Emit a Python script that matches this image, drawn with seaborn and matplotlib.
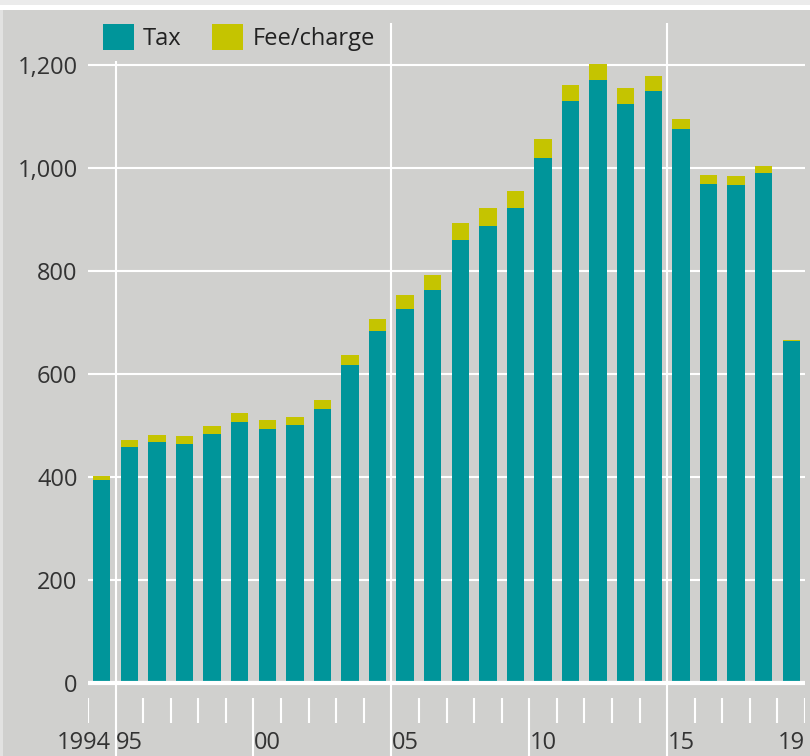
import matplotlib
matplotlib.use("Agg")
import matplotlib.pyplot as plt
import matplotlib.patches as mpatches
import pandas as pd
import seaborn as sns

# values
years = [str(y) for y in range(1994, 2020)]
tax = [394, 458, 468, 464, 483, 508, 494, 502, 533, 617, 684, 726, 763,
       860, 888, 922, 1020, 1130, 1172, 1125, 1151, 1076, 969, 968, 990, 665]
fee = [8, 14, 13, 16, 17, 16, 16, 15, 17, 20, 24, 27, 29,
       33, 34, 33, 36, 32, 31, 30, 28, 19, 17, 17, 14, 1]
y_ticks = [0, 200, 400, 600, 800, 1000, 1200]
x_label_pos = [1, 6, 11, 16, 21, 25]
x_labels = ["95", "00", "05", "10", "15", "19"]

df = pd.DataFrame({"year": years, "tax": tax, "fee": fee})
df["total"] = df["tax"] + df["fee"]

BG = "#d0d0ce"
TEAL = "#00959a"
YELLOW = "#c5c400"
TXT = "#333333"

sns.set_style("white")
plt.rcParams["font.family"] = ["Open Sans", "DejaVu Sans"]

fig = plt.figure(figsize=(8.1, 7.56), dpi=100)
fig.patch.set_facecolor(BG)
# light strip + white rule at the top, thin light strip on the left
fig.patches.append(mpatches.Rectangle((0, 1 - 5 / 756), 1, 5 / 756, transform=fig.transFigure,
                                      facecolor="#ebebeb", edgecolor="none"))
fig.patches.append(mpatches.Rectangle((0, 1 - 9.5 / 756), 1, 4.5 / 756, transform=fig.transFigure,
                                      facecolor="white", edgecolor="none"))
fig.patches.append(mpatches.Rectangle((0, 0), 3 / 810, 1 - 9.5 / 756, transform=fig.transFigure,
                                      facecolor="#e2e2e1", edgecolor="none"))

ax = fig.add_axes([88 / 810, 0, 717 / 810, 746 / 756])
ax.set_facecolor(BG)

k = 617.7 / 1200  # pixels per unit
ybot = -(756 - 683) / k
ytop = (683 - 10) / k

sns.barplot(data=df, x="year", y="total", color=YELLOW, saturation=1,
            width=0.63, linewidth=0, ax=ax, zorder=2)
sns.barplot(data=df, x="year", y="tax", color=TEAL, saturation=1,
            width=0.63, linewidth=0, ax=ax, zorder=2)

for v in y_ticks[1:]:
    ax.axhline(v, color="white", lw=1.5, zorder=1)
ax.axhline(0, color="white", lw=3, zorder=3)

# separators at the start of 1995, 2005, 2015
ax.vlines([0.5, 10.5, 20.5], ybot, [(683 - 61) / k, (683 - 23) / k, (683 - 23) / k],
          color="white", lw=1.5, zorder=1)
# year ticks at the bar boundaries
short = [b - 0.5 for b in range(27) if b not in (1, 6, 11, 16, 21)]
ax.vlines(short, -(698 - 683) / k, -(723 - 683) / k, color="white", lw=1.5, zorder=1)
ax.vlines([5.5, 15.5], -(698 - 683) / k, ybot, color="white", lw=1.5, zorder=1)

ax.set_xlim(-0.5, 25.5)
ax.set_ylim(ybot, ytop)
ax.set_xticks([])
ax.set_xlabel("")
ax.set_ylabel("")
ax.set_yticks(y_ticks)
ax.set_yticklabels([f"{v:,}" for v in y_ticks])
ax.tick_params(axis="y", length=0, pad=7.5, labelsize=17, labelcolor=TXT)
ax.grid(False)
for s in ax.spines.values():
    s.set_visible(False)

ylab = ybot + 1 / k
ax.text(0.32, ylab, "1994", ha="right", va="bottom", fontsize=17, color=TXT)
for p, lab in zip(x_label_pos, x_labels):
    ax.text(p, ylab, lab, ha="center", va="bottom", fontsize=17, color=TXT)

handles = [mpatches.Patch(facecolor=TEAL, edgecolor="none", label="Tax"),
           mpatches.Patch(facecolor=YELLOW, edgecolor="none", label="Fee/charge")]
leg = fig.legend(handles=handles, loc="upper left", bbox_to_anchor=(103 / 810, 1 - 24 / 756),
                 frameon=False, ncol=2, borderpad=0, borderaxespad=0,
                 handlelength=1.3, handleheight=1.3, handletextpad=0.4,
                 columnspacing=1.3, fontsize=17)
for t in leg.get_texts():
    t.set_color("#222222")

fig.savefig("out.png", dpi=100, facecolor=BG)
